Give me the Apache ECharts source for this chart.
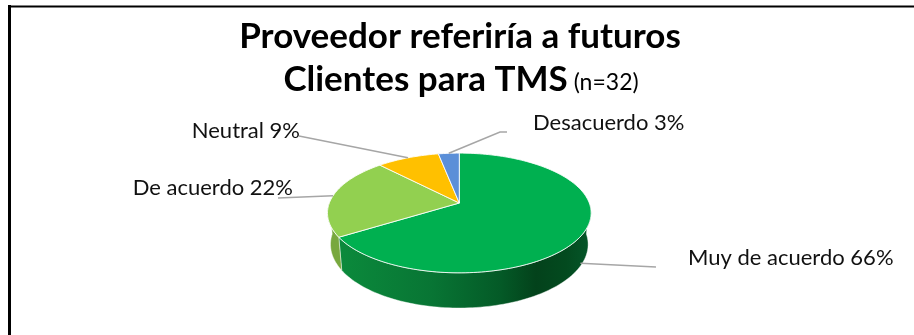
<!DOCTYPE html>
<html>
<head>
<meta charset="utf-8">
<script src="https://cdn.jsdelivr.net/npm/echarts@6/dist/echarts.min.js"></script>
<style>
  html, body { margin: 0; padding: 0; background: #ffffff; }
  #chart { width: 914px; height: 335px; }
</style>
</head>
<body>
<div id="chart"></div>
<script>
// Survey answers and their shares (percent of respondents)
const categories = ['Muy de acuerdo', 'De acuerdo', 'Neutral', 'Desacuerdo'];
const percents = [66, 22, 9, 3];
const sampleSize = 32;
const titleLine1 = 'Proveedor referiría a futuros';
const titleLine2 = 'Clientes para TMS';

// Slice colours: top face and side wall
const topColors = ['#00B050', '#92D050', '#FFC000', '#5B8FD8'];
const sideColors = [
  { type: 'linear', x: 0, y: 0, x2: 1, y2: 0, colorStops: [
    { offset: 0, color: '#0b8a3c' }, { offset: 0.37, color: '#087534' },
    { offset: 0.64, color: '#045a27' }, { offset: 0.78, color: '#03421b' },
    { offset: 0.9, color: '#034a1f' }, { offset: 1, color: '#05572a' } ] },
  '#78a83e', '#d9a300', '#4a78b8'
];

// Perspective view of a tilted disc (unit radius), projected onto the page
const VIEW = { cx: 459.3, cy: 203, f: 698, dist: 5.37, tilt: 26.6 * Math.PI / 180, depth: 0.273 };
function project(deg, depthFrac) {
  const t = deg * Math.PI / 180;
  const X = Math.sin(t), Z = Math.cos(t), Y = -VIEW.depth * depthFrac;
  const c = Math.cos(VIEW.tilt), s = Math.sin(VIEW.tilt);
  const yc = Y * c + Z * s;
  const d = VIEW.dist + Z * c - Y * s;
  return [VIEW.cx + VIEW.f * X / d, VIEW.cy - VIEW.f * yc / d];
}
function arc(a0, a1, depthFrac) {
  const n = Math.max(2, Math.ceil((a1 - a0) / 1.5));
  const pts = [];
  for (let j = 0; j <= n; j++) pts.push(project(a0 + (a1 - a0) * j / n, depthFrac));
  return pts;
}

// Leader lines and label placement per slice
const labelLayout = [
  { depth: 0.9, bend: [[656, 267]], at: [688, 258], align: 'left' },
  { depth: 0, bend: [[278, 198]], at: [293, 188], align: 'right' },
  { depth: 0, bend: [[299, 136]], at: [300, 131], align: 'right' },
  { depth: 0, bend: [[500, 132], [507, 132]], at: [533, 123], align: 'left' }
];

const LABEL_FONT = 'Lato, "Open Sans", sans-serif';
const total = percents.reduce((a, b) => a + b, 0);

function renderSlice(params, api) {
  const i = params.dataIndex;
  const value = api.value(0);
  let before = 0;
  for (let k = 0; k < i; k++) before += percents[k];
  const a0 = before / total * 360;
  const a1 = (before + value) / total * 360;
  const children = [];
  const apex = [VIEW.cx, VIEW.cy];

  children.push({
    type: 'polygon', z2: 10,
    shape: { points: [apex].concat(arc(a0, a1, 0)) },
    style: { fill: topColors[i], stroke: 'rgba(255,255,255,0.85)', lineWidth: 1 }
  });

  // Front wall, visible between the left and right extremes of the disc
  const s0 = Math.max(a0, 90), s1 = Math.min(a1, 270);
  if (s1 > s0) {
    const topEdge = arc(s0, s1, 0);
    const bottomEdge = arc(s0, s1, 1).reverse();
    children.push({
      type: 'polygon', z2: 5,
      shape: { points: topEdge.concat(bottomEdge) },
      style: { fill: sideColors[i], stroke: 'rgba(255,255,255,0.55)', lineWidth: 0.8 }
    });
  }

  const lay = labelLayout[i];
  const mid = (a0 + a1) / 2;
  children.push({
    type: 'polyline', z2: 20,
    shape: { points: [project(mid, lay.depth)].concat(lay.bend) },
    style: { stroke: '#a6a6a6', lineWidth: 1.5, fill: null }
  });
  children.push({
    type: 'text', z2: 20, x: lay.at[0], y: lay.at[1],
    style: {
      text: categories[i] + ' ' + value + '%',
      fill: '#111111', fontFamily: LABEL_FONT, fontSize: 22,
      align: lay.align, verticalAlign: 'middle'
    }
  });
  return { type: 'group', children: children };
}

const chart = echarts.init(document.getElementById('chart'), null, { renderer: 'canvas' });
chart.setOption({
  backgroundColor: '#ffffff',
  animation: false,
  graphic: [
    { type: 'line', shape: { x1: 9.5, y1: 5, x2: 9.5, y2: 340 }, style: { stroke: '#000', lineWidth: 3 } },
    { type: 'line', shape: { x1: 8, y1: 6.5, x2: 920, y2: 6.5 }, style: { stroke: '#000', lineWidth: 2 } },
    {
      type: 'text', x: 460, y: 37,
      style: { text: titleLine1, fill: '#000', fontFamily: LABEL_FONT, fontWeight: 'bold', fontSize: 35,
               align: 'center', verticalAlign: 'middle' }
    },
    {
      type: 'text', x: 461, y: 77,
      style: {
        text: '{b|' + titleLine2 + '}{n| (n=' + sampleSize + ')}',
        align: 'center', verticalAlign: 'middle',
        rich: {
          b: { fill: '#000', fontFamily: LABEL_FONT, fontWeight: 'bold', fontSize: 35, lineHeight: 40, verticalAlign: 'bottom' },
          n: { fill: '#000', fontFamily: LABEL_FONT, fontSize: 23, lineHeight: 40, verticalAlign: 'bottom', padding: [0, 0, 3, 0] }
        }
      }
    }
  ],
  series: [{
    type: 'custom',
    coordinateSystem: 'none',
    renderItem: renderSlice,
    data: percents.map(v => [v])
  }]
});
</script>
</body>
</html>
